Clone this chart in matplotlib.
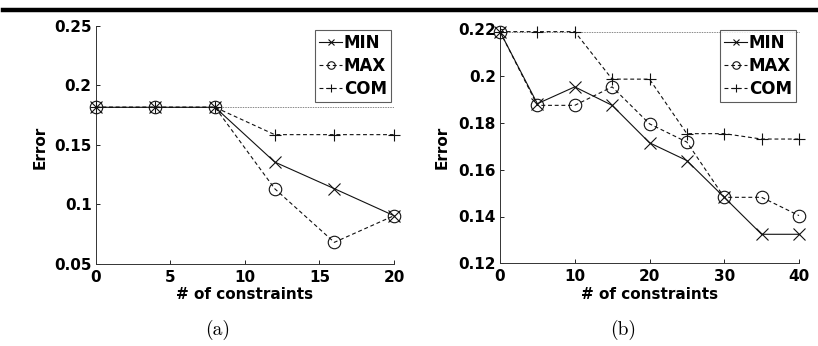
import matplotlib
matplotlib.use("Agg")
import matplotlib.pyplot as plt
from matplotlib.lines import Line2D

# ---- data (a) ----
x_a = [0, 4, 8, 12, 16, 20]
min_a = [0.1817, 0.1817, 0.1817, 0.1357, 0.1133, 0.0906]
max_a = [0.1817, 0.1817, 0.1817, 0.1133, 0.0682, 0.0906]
com_a = [0.1817, 0.1817, 0.1817, 0.1587, 0.1587, 0.1587]
yticks_a = [0.05, 0.1, 0.15, 0.2, 0.25]
ytl_a = ["0.05", "0.1", "0.15", "0.2", "0.25"]
xticks_a = [0, 5, 10, 15, 20]

# ---- data (b) ----
x_b = [0, 5, 10, 15, 20, 25, 30, 35, 40]
min_b = [0.2190, 0.1882, 0.1954, 0.1875, 0.1715, 0.1639, 0.1482, 0.1324, 0.1324]
max_b = [0.2190, 0.1875, 0.1875, 0.1954, 0.1796, 0.1718, 0.1482, 0.1482, 0.1404]
com_b = [0.2190, 0.2190, 0.2190, 0.1987, 0.1987, 0.1754, 0.1754, 0.1731, 0.1731]
yticks_b = [0.12, 0.14, 0.16, 0.18, 0.2, 0.22]
ytl_b = ["0.12", "0.14", "0.16", "0.18", "0.2", "0.22"]
xticks_b = [0, 10, 20, 30, 40]

labels = ["MIN", "MAX", "COM"]

plt.rcParams['font.family'] = ['DejaVu Sans']
plt.rcParams['font.weight'] = 'bold'
FS = 11

fig = plt.figure(figsize=(8.18, 3.46), dpi=100)

W, H = 818.0, 346.0
def axrect(x0, x1, ytop, ybot):
    return [x0 / W, 1 - ybot / H, (x1 - x0) / W, (ybot - ytop) / H]

ax_a = fig.add_axes(axrect(95.7, 394, 26, 264))
ax_b = fig.add_axes(axrect(500, 799, 29.3, 263.3))

dash = (0, (3.5, 2.5))
lw = 0.8
col = "#111111"

def draw(ax, x, mn, mx, cm, xlim, ylim, xt, yt, ytl, leg_anchor, ylab_x, ylab_y, xlab_y):
    ax.plot([x[0], x[-1]], [mn[0], mn[0]], linestyle=(0, (0.8, 1.2)), color="#333333", lw=0.6, zorder=1)
    ax.plot(x, mn, linestyle='-', marker='x', color=col, lw=lw, ms=8, mew=0.8, label=labels[0], zorder=3)
    ax.plot(x, mx, linestyle=dash, marker='o', color=col, lw=lw, ms=9, mew=0.8, mfc='none', label=labels[1], zorder=3)
    ax.plot(x, cm, linestyle=dash, marker='+', color=col, lw=lw, ms=9, mew=0.8, label=labels[2], zorder=3)
    ax.set_xlim(*xlim)
    ax.set_ylim(*ylim)
    ax.set_xticks(xt)
    ax.set_xticklabels([str(v) for v in xt], fontsize=FS, fontweight='bold')
    ax.set_yticks(yt)
    ax.set_yticklabels(ytl, fontsize=FS, fontweight='bold')
    ax.tick_params(direction='in', length=3, width=0.6, pad=4, colors='black')
    ax.tick_params(axis='y', pad=3)
    for s in ['top', 'right']:
        ax.spines[s].set_visible(False)
    for s in ['left', 'bottom']:
        ax.spines[s].set_linewidth(0.7)
        ax.spines[s].set_color('#333333')
    ax.set_ylabel("Error", fontsize=FS, fontweight='bold')
    ax.yaxis.set_label_coords(ylab_x, ylab_y)
    ax.set_xlabel("# of constraints", fontsize=FS, fontweight='bold')
    ax.xaxis.set_label_coords(0.5, xlab_y)
    leg = ax.legend(loc='upper right', bbox_to_anchor=leg_anchor,
                    prop={'size': 12, 'weight': 'bold'}, markerscale=0.6,
                    frameon=True, fancybox=False, handlelength=1.4, handletextpad=0.1,
                    labelspacing=0.3, borderpad=0.25, borderaxespad=0.0)
    leg.get_frame().set_edgecolor('#333333')
    leg.get_frame().set_linewidth(0.8)

draw(ax_a, x_a, min_a, max_a, com_a, (0, 20), (0.05, 0.25), xticks_a, yticks_a, ytl_a,
     (0.99, 0.983), -0.16, 0.49, -0.097)
draw(ax_b, x_b, min_b, max_b, com_b, (0, 40), (0.12, 0.22), xticks_b, yticks_b, ytl_b,
     (0.99, 0.997), -0.17, 0.497, -0.101)
for ax in (ax_a, ax_b):
    for l in ax.lines:
        l.set_clip_on(False)

# top rule
fig.add_artist(Line2D([3 / W, 1.0], [1 - 9.5 / H, 1 - 9.5 / H], color='black', lw=3.2,
                      transform=fig.transFigure))

# captions
fig.text(218 / W, 1 - 330 / H, "(a)", ha='center', va='center', fontsize=14,
         family='cmr10', fontweight='normal')
fig.text(623 / W, 1 - 330 / H, "(b)", ha='center', va='center', fontsize=14,
         family='cmr10', fontweight='normal')

fig.savefig("out.png", dpi=100)
